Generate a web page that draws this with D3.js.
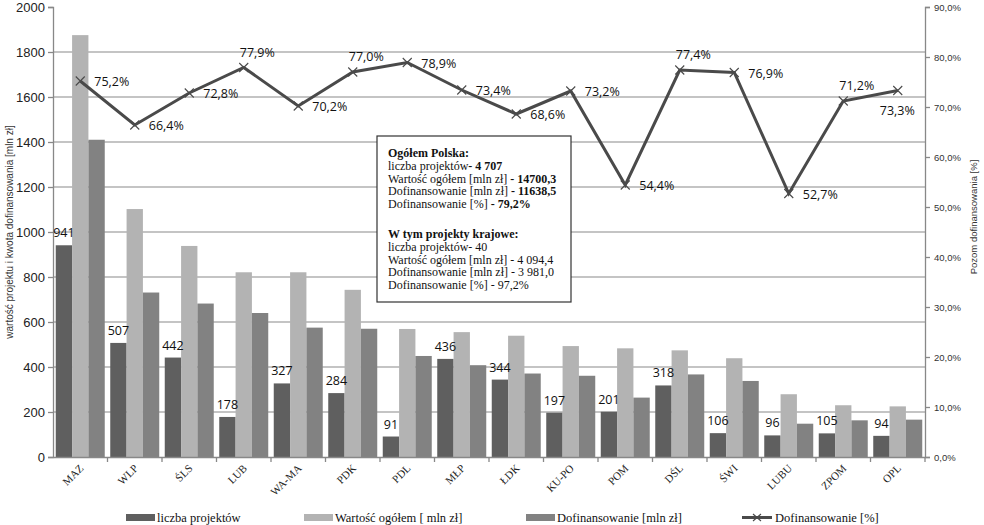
<!DOCTYPE html>
<html><head><meta charset="utf-8">
<script src="https://cdn.jsdelivr.net/npm/d3@7/dist/d3.min.js"></script>
<style>body{margin:0;background:#fff}svg{display:block}</style>
</head><body>
<svg id="c" width="984" height="525"></svg>
<script>
const categories = ["MAZ","WLP","ŚLS","LUB","WA-MA","PDK","PDL","MŁP","ŁDK","KU-PO","POM","DŚL","ŚWI","LUBU","ZPOM","OPL"];
const projects = [941,507,442,178,327,284,91,436,344,197,201,318,106,96,105,94];
const totalValue = [1875,1102,938,821,821,743,569,555,539,493,483,474,439,279,230,225];
const funding = [1410,731,682,640,575,570,449,408,371,361,264,367,338,148,163,166];
const fundingPct = [75.2,66.4,72.8,77.9,70.2,77.0,78.9,73.4,68.6,73.2,54.4,77.4,76.9,52.7,71.2,73.3];
const pctLabelPlace = ["r","r","r","a","r","a","r","r","r","r","r","a","r","r","a","b"];
const leftTicks = [0,200,400,600,800,1000,1200,1400,1600,1800,2000];
const rightTicks = [0,10,20,30,40,50,60,70,80,90];
const seriesNames = ["liczba projektów","Wartość ogółem [ mln zł]","Dofinansowanie [mln zł]","Dofinansowanie [%]"];
const boxLines1 = [["Ogółem Polska:",""],["liczba projektów","- 4 707"],["Wartość ogółem [mln zł] ","- 14700,3"],["Dofinansowanie [mln zł] ","- 11638,5"],["Dofinansowanie [%] ","- 79,2%"]];
const boxLines2 = [["W tym projekty krajowe:",""],["liczba projektów","- 40"],["Wartość ogółem [mln zł] ","- 4 094,4"],["Dofinansowanie [mln zł] ","- 3 981,0"],["Dofinansowanie [%] ","- 97,2%"]];

const colors = ["#5f5f5f","#b3b3b3","#828282"];
const lineColor = "#4a4a4a";
const L=53, R=925, T=7, B=457;
const svg = d3.select("#c");

const x = d3.scaleBand().domain(categories).range([L,R]).paddingInner(0).paddingOuter(0);
const x1 = d3.scaleBand().domain([0,1,2]).range([2.75, x.bandwidth()-2.75]).padding(0);
const y = d3.scaleLinear().domain([0,2000]).range([B,T]);
const y2 = d3.scaleLinear().domain([0,90]).range([B,T]);

// gridlines
svg.append("g").selectAll("line").data(leftTicks.filter(d=>d>0 && d<2000)).join("line")
  .attr("x1",L).attr("x2",R).attr("y1",d=>y(d)).attr("y2",d=>y(d))
  .attr("stroke","#b0b0b0").attr("stroke-width",1.3);

// bars
const series = [projects,totalValue,funding];
const g = svg.append("g");
series.forEach((s,si)=>{
  g.selectAll(null).data(s).join("rect")
    .attr("x",(d,i)=>x(categories[i])+x1(si))
    .attr("width",x1.bandwidth())
    .attr("y",d=>y(d)).attr("height",d=>B-y(d))
    .attr("fill",colors[si]);
});

// left axis
const yAx = svg.append("g").attr("transform",`translate(${L},0)`)
  .call(d3.axisLeft(y).tickValues(leftTicks).tickSize(5).tickPadding(3).tickFormat(d3.format("d")));
yAx.select(".domain").attr("stroke","#888").attr("stroke-width",1.3);
yAx.selectAll(".tick line").attr("stroke","#888").attr("stroke-width",1.3);
yAx.selectAll("text").attr("font-family","Liberation Sans, Arial").attr("font-size",13).attr("fill","#222");

// right axis
const yAx2 = svg.append("g").attr("transform",`translate(${R},0)`)
  .call(d3.axisRight(y2).tickValues(rightTicks).tickSize(5).tickPadding(4).tickFormat(d=>d.toFixed(1).replace(".",",")+"%"));
yAx2.select(".domain").attr("stroke","#888").attr("stroke-width",1.3);
yAx2.selectAll(".tick line").attr("stroke","#888").attr("stroke-width",1.3);
yAx2.selectAll("text").attr("font-family","Liberation Sans, Arial").attr("font-size",9.5).attr("fill","#333");

// x axis
const xAx = svg.append("g").attr("transform",`translate(0,${B})`)
  .call(d3.axisBottom(x).tickSize(0).tickFormat(""));
xAx.select(".domain").attr("stroke","#888").attr("stroke-width",1.3);
svg.append("g").selectAll("line").data(categories).join("line")
  .attr("x1",d=>x(d)+x.step()).attr("x2",d=>x(d)+x.step())
  .attr("y1",B).attr("y2",B+5).attr("stroke","#888").attr("stroke-width",1.3);
svg.append("g").selectAll("text").data(categories).join("text")
  .attr("transform",d=>`translate(${x(d)+x.bandwidth()/2+4},${B+12}) rotate(-45)`)
  .attr("text-anchor","end")
  .attr("font-family","Liberation Serif, Times New Roman").attr("font-size",11).attr("fill","#222")
  .text(d=>d);

// axis titles
svg.append("text").attr("transform",`translate(13,${(T+B)/2}) rotate(-90)`)
  .attr("text-anchor","middle").attr("font-family","Liberation Sans, Arial").attr("font-size",10).attr("fill","#333")
  .text("wartość projektu i kwota dofinansowania [mln zł]");
svg.append("text").attr("transform",`translate(977,217) rotate(-90)`)
  .attr("text-anchor","middle").attr("font-family","Liberation Sans, Arial").attr("font-size",9.5).attr("fill","#333")
  .text("Pozom dofinansowania [%]");

// project labels
svg.append("g").selectAll("text").data(projects).join("text")
  .attr("x",(d,i)=>x(categories[i])+x1(0)+x1.bandwidth()/2)
  .attr("y",d=>y(d)-8)
  .attr("text-anchor","middle").attr("font-family","Open Sans, sans-serif").attr("font-size",12.5).attr("fill","#111")
  .text(d=>d);

// line
const cx = i=>x(categories[i])+x.bandwidth()/2;
svg.append("path").datum(fundingPct)
  .attr("d",d3.line().x((d,i)=>cx(i)).y(d=>y2(d)))
  .attr("fill","none").attr("stroke",lineColor).attr("stroke-width",3).attr("stroke-linejoin","miter");
svg.append("g").selectAll("path").data(fundingPct).join("path")
  .attr("d",(d,i)=>{const X=cx(i),Y=y2(d),s=4.5;return `M${X-s},${Y-s}L${X+s},${Y+s}M${X-s},${Y+s}L${X+s},${Y-s}`;})
  .attr("stroke",lineColor).attr("stroke-width",1.1).attr("fill","none");
svg.append("g").selectAll("text").data(fundingPct).join("text")
  .attr("x",(d,i)=>{const p=pctLabelPlace[i];return cx(i)+(p==="r"?14:p==="a"?-4:-18);})
  .attr("y",(d,i)=>{const p=pctLabelPlace[i];return y2(d)+(p==="r"?5:p==="a"?-11:24);})
  .attr("font-family","Open Sans, sans-serif").attr("font-size",12.5).attr("fill","#111")
  .text(d=>d.toFixed(1).replace(".",",")+"%");

// text box
const bx=377, by=136, bw=194, bh=166;
svg.append("rect").attr("x",bx).attr("y",by).attr("width",bw).attr("height",bh)
  .attr("fill","#fff").attr("stroke","#333").attr("stroke-width",1.2);
const tb = svg.append("text").attr("font-family","Liberation Serif, Times New Roman").attr("font-size",12).attr("fill","#111")
  .attr("xml:space","preserve").style("white-space","pre");
function addLines(lines, y0, boldVals){
  lines.forEach((ln,i)=>{
    const t = tb.append("tspan").attr("x",bx+11).attr("y",y0+i*12.8);
    if(i===0){ t.attr("font-weight","bold").text(ln[0]); }
    else { t.text(ln[0]); tb.append("tspan").attr("font-weight",boldVals?"bold":"normal").text(ln[1]); }
  });
}
addLines(boxLines1, by+21, true);
addLines(boxLines2, by+102, false);

// legend
const lg = svg.append("g").attr("font-family","Liberation Serif, Times New Roman").attr("font-size",12.5).attr("fill","#111");
const lx = [126,304,526,742];
[0,1,2].forEach(i=>{
  lg.append("rect").attr("x",lx[i]).attr("y",514).attr("width",29).attr("height",7).attr("fill",colors[i]);
  lg.append("text").attr("x",lx[i]+31).attr("y",521.5).text(seriesNames[i]);
});
lg.append("line").attr("x1",lx[3]).attr("x2",lx[3]+30).attr("y1",517.5).attr("y2",517.5).attr("stroke",lineColor).attr("stroke-width",3);
lg.append("path").attr("d",`M${lx[3]+11},${514}L${lx[3]+19},${521}M${lx[3]+11},${521}L${lx[3]+19},${514}`).attr("stroke",lineColor).attr("stroke-width",1.1);
lg.append("text").attr("x",lx[3]+33).attr("y",521.5).text(seriesNames[3]);
</script>
</body></html>
